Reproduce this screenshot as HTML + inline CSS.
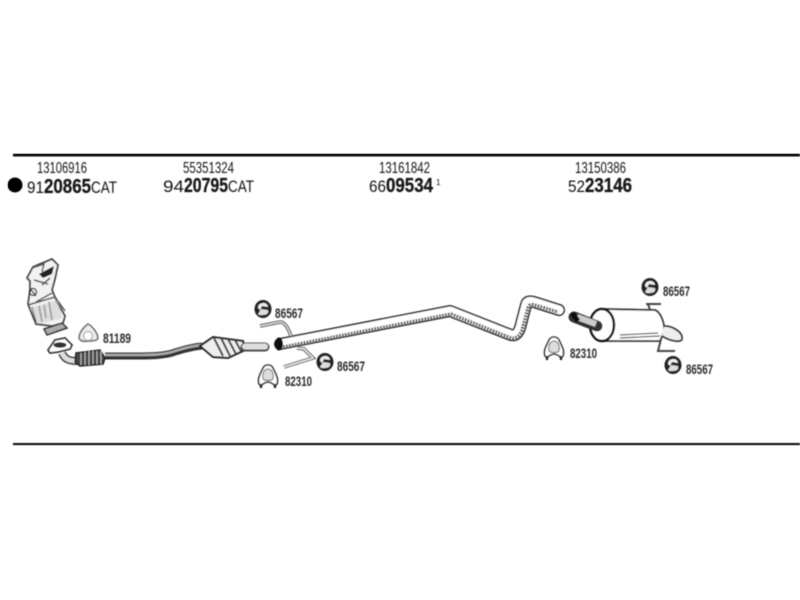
<!DOCTYPE html>
<html><head><meta charset="utf-8"><style>
html,body{margin:0;padding:0;background:#fff}
svg{display:block}
text{font-family:"Liberation Sans",sans-serif;fill:#151515}
.p{font-size:15.5px}
.b{font-size:20.5px;font-weight:bold;stroke:#151515;stroke-width:.3px}
.r{font-size:16.5px}
.l{font-size:14px;font-weight:bold;fill:#2a2a2a}
</style></head><body>
<svg width="800" height="600" viewBox="0 0 800 600" xmlns="http://www.w3.org/2000/svg">
<defs>
<filter id="s" x="0" y="0" width="100%" height="100%"><feGaussianBlur stdDeviation="0.45"/></filter>
<g id="ring"><ellipse rx="8.5" ry="9" fill="#222"/><path d="M-5-1C-5-5-2-6 1-6C3-6 5-4 5-2L-1-3L-3 1Z" fill="#eee"/><path d="M-5 5L-2 0L5 1C6 4 4 6 0 6C-2 6.500-4 6-5 5Z" fill="#ddd"/></g>
<g id="clamp"><path d="M-9 8C-11 2-7-3-5-8C-3-12 3-12 5-8C7-3 11 2 9 8C6 11 5 6 0 6C-5 6-6 11-9 8Z" fill="#fff" stroke="#333" stroke-width="1.6"/><path d="M-5 3C-6-2-4-7 0-7C4-7 6-2 5 3C3 5-3 5-5 3Z" fill="#ddd" stroke="#666"/><path d="M-7 8V12M7 8V12" stroke="#222" stroke-width="2.4"/></g>
</defs>
<rect width="800" height="600" fill="#fff"/>
<g filter="url(#s)">
<rect x="13" y="153.500" width="787" height="3" fill="#111"/>
<rect x="13" y="443" width="787" height="2.200" fill="#111"/>

<text class="p" x="37" y="173" textLength="50" lengthAdjust="spacingAndGlyphs">13106916</text>
<circle cx="15" cy="185" r="7.500" fill="#000"/>
<text class="r" x="27" y="193" textLength="17" lengthAdjust="spacingAndGlyphs">91</text>
<text class="b" x="44" y="193" textLength="47" lengthAdjust="spacingAndGlyphs">20865</text>
<text class="r" x="91" y="193" textLength="26" lengthAdjust="spacingAndGlyphs">CAT</text>

<text class="p" x="183" y="173" textLength="51" lengthAdjust="spacingAndGlyphs">55351324</text>
<text class="r" x="163" y="192" textLength="21" lengthAdjust="spacingAndGlyphs">94</text>
<text class="b" x="184" y="192" textLength="44" lengthAdjust="spacingAndGlyphs">20795</text>
<text class="r" x="228" y="192" textLength="26" lengthAdjust="spacingAndGlyphs">CAT</text>

<text class="p" x="379" y="173" textLength="51" lengthAdjust="spacingAndGlyphs">13161842</text>
<text class="r" x="369" y="192" textLength="17" lengthAdjust="spacingAndGlyphs">66</text>
<text class="b" x="386" y="192" textLength="47" lengthAdjust="spacingAndGlyphs">09534</text>
<text x="436" y="185" font-size="8">1</text>

<text class="p" x="575" y="173" textLength="51" lengthAdjust="spacingAndGlyphs">13150386</text>
<text class="r" x="568" y="192" textLength="17" lengthAdjust="spacingAndGlyphs">52</text>
<text class="b" x="585" y="192" textLength="47" lengthAdjust="spacingAndGlyphs">23146</text>

<!-- manifold catalyst -->
<path d="M27 278L33 267L40 264L45 262L52 259L58 265L55 279L52 290L57 302L65 316L63 323L52 326L36 324L28 304L30 290L30 281Z" fill="#f2f2f2" stroke="#444" stroke-width="1.800"/>
<path d="M39 274L54 266L52 274L43 278Z" fill="#222"/>
<path d="M32 268L44 264L42 272M34 280L48 284M42 285L50 278M31 290L36 296M36 302L52 293M28 305L55 297L65 311M36 322L32 307M42 322L39 306M46 318L44 305M52 320L49 302" stroke="#555" stroke-width="1.500" fill="none"/>
<path d="M30 308L58 300L62 318L38 324Z" fill="#ccc" opacity=".55"/>
<circle cx="33" cy="292" r="3.500" fill="none" stroke="#222" stroke-width="1.300"/>
<path d="M44 329L62 323L67 328L47 335Z" fill="#aaa" stroke="#333" stroke-width="1.500"/>

<!-- flange and front pipe -->
<path d="M48 350L55 340L65 338L72 345L70 349L58 352L50 353Z" fill="#fff" stroke="#333" stroke-width="1.800"/>
<ellipse cx="60" cy="345" rx="6.500" ry="2.800" fill="#333"/>
<path d="M62 353C65 360 70 361 78 361" fill="none" stroke="#333" stroke-width="8"/>
<path d="M62 353C65 360 70 361 78 361" fill="none" stroke="#ddd" stroke-width="5"/>
<path d="M105 356H135C150 356 165 356 175 352C185 349 192 347 202 346" fill="none" stroke="#333" stroke-width="7"/>
<path d="M105 355H135C150 355 165 355 175 351C185 348 192 346 202 345" fill="none" stroke="#aaa" stroke-width="2.500"/>
<path d="M76 353L100 350L105 358L103 364L80 366L75 362Z" fill="#444" stroke="#222" stroke-width="1.500"/>
<path d="M81 353V365M85 352V365M89 351V365M93 351V364M97 351V364M101 351V364" stroke="#bbb" stroke-width="1.200"/>

<!-- centre catalyst -->
<path d="M200 346L213 337L243 341L245 350L228 358L213 357Z" fill="#eee" stroke="#222" stroke-width="2"/>
<path d="M214 338L223 356M221 338L230 356M228 339L236 354M235 340L241 351" stroke="#444" stroke-width="2"/>
<path d="M245 347H265" stroke="#444" stroke-width="9" stroke-linecap="round"/>
<path d="M245 346.500H265" stroke="#ddd" stroke-width="6" stroke-linecap="round"/>

<!-- centre pipe -->
<path d="M280 344L450 311L511 335C516 336 518 333 520 328L526 305C527 301 530 301 534 302L559 310" fill="none" stroke="#222" stroke-width="12" stroke-linejoin="round" stroke-linecap="round"/>
<path d="M280 344L450 311L511 335C516 336 518 333 520 328L526 305C527 301 530 301 534 302L559 310" fill="none" stroke="#fff" stroke-width="9" stroke-linejoin="round" stroke-linecap="round"/>
<path d="M283 347L451 314L511 338C517 339 520 335 522 330L528 308C529 304 532 304 535 305L558 312" fill="none" stroke="#666" stroke-width="3.400" stroke-dasharray="2 1"/>
<ellipse cx="279" cy="344" rx="4" ry="6.500" fill="#111"/>

<!-- hanger brackets -->
<path d="M260 326L280 322C285 322 288 328 291 336" fill="none" stroke="#555" stroke-width="3.500"/>
<path d="M260 326L280 322C285 322 288 328 291 336" fill="none" stroke="#ddd" stroke-width="1.500"/>
<path d="M297 348L304 349L313 358L284 367" fill="none" stroke="#555" stroke-width="3.500"/>
<path d="M297 348L304 349L313 358L284 367" fill="none" stroke="#eee" stroke-width="1.500"/>

<!-- muffler -->
<path d="M602 309L655 310C660 312 665 322 664 332L660 341L602 341Z" fill="#fff" stroke="#333" stroke-width="1.800"/>
<path d="M620 335L658 333M620 338L660 336" stroke="#555" stroke-width="1.200"/>
<path d="M664 326C674 326 683 333 682 339C681 343 670 341 662 336" fill="#eee" stroke="#333" stroke-width="1.800"/>
<ellipse cx="602" cy="325" rx="12" ry="16" fill="#fff" stroke="#111" stroke-width="2.500"/>
<path d="M574 317L597 326" stroke="#333" stroke-width="11" stroke-linecap="round"/>
<path d="M577 317L596 324" stroke="#ccc" stroke-width="6"/>
<path d="M572 313L578 321" stroke="#111" stroke-width="5"/>
<path d="M646 304H661M648 304L650 310" fill="none" stroke="#444" stroke-width="2"/>
<path d="M661 339L658 351H675" fill="none" stroke="#444" stroke-width="2"/>

<!-- small parts -->
<path d="M79 337C80 331 85 326 88 324C92 326 97 332 98 338C97 341 92 341 88 341C84 342 79 341 79 337Z" fill="#eee" stroke="#666" stroke-width="1.500"/>
<circle cx="88" cy="336" r="4.500" fill="#fff" stroke="#999"/>
<use href="#ring" x="263" y="309"/>
<use href="#ring" x="325" y="362"/>
<use href="#ring" x="650" y="287"/>
<use href="#ring" x="673" y="365"/>
<use href="#clamp" x="268" y="376"/>
<use href="#clamp" x="554" y="348"/>

<text class="l" x="103" y="343" textLength="28" lengthAdjust="spacingAndGlyphs">81189</text>
<text class="l" x="275" y="318" textLength="28" lengthAdjust="spacingAndGlyphs">86567</text>
<text class="l" x="337" y="371" textLength="28" lengthAdjust="spacingAndGlyphs">86567</text>
<text class="l" x="285" y="386" textLength="27" lengthAdjust="spacingAndGlyphs">82310</text>
<text class="l" x="663" y="296" textLength="27" lengthAdjust="spacingAndGlyphs">86567</text>
<text class="l" x="570" y="358" textLength="27" lengthAdjust="spacingAndGlyphs">82310</text>
<text class="l" x="686" y="374" textLength="27" lengthAdjust="spacingAndGlyphs">86567</text>
</g>
</svg>
</body></html>
